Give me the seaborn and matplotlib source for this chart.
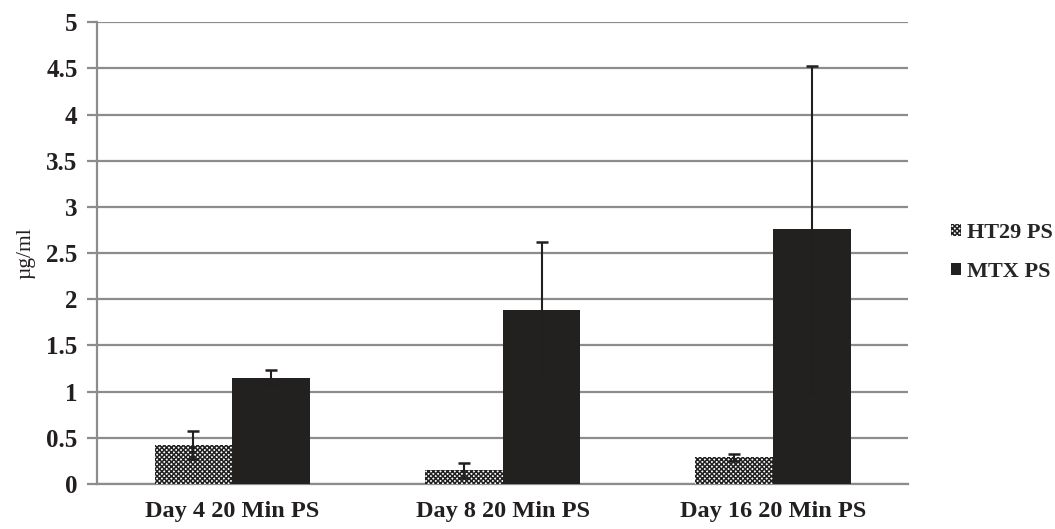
import pandas as pd
import matplotlib
matplotlib.use('Agg')
import matplotlib.pyplot as plt
import numpy as np
import seaborn as sns

days = ['Day 4 20 Min PS', 'Day 8 20 Min PS', 'Day 16 20 Min PS']
groups = ['HT29 PS', 'MTX PS']
ht29_mean = [0.42, 0.15, 0.29]
ht29_err = [0.15, 0.08, 0.04]
mtx_mean = [1.15, 1.88, 2.76]
mtx_err = [0.08, 0.74, 1.77]

df = pd.DataFrame({
    'day': days * 2,
    'group': [groups[0]] * 3 + [groups[1]] * 3,
    'value': ht29_mean + mtx_mean,
})
errs = [ht29_err, mtx_err]

sns.set_style('white')
plt.rcParams['font.family'] = ['Liberation Serif', 'DejaVu Serif']
plt.rcParams['font.weight'] = 'bold'
plt.rcParams['hatch.linewidth'] = 1.1

fig = plt.figure(figsize=(10.55, 5.29), dpi=100)
ax = fig.add_axes([0.092, 0.085, 0.769, 0.873])

sns.barplot(data=df, x='day', y='value', hue='group', palette=['white', '#231f20'],
            width=0.575, errorbar=None, ax=ax, legend=False, zorder=3)

# hatch the HT29 bars, then error bars on top
bar_conts = list(ax.containers)
for i, cont in enumerate(bar_conts):
    for j, bar in enumerate(cont.patches):
        bar.set_linewidth(0)
        if i == 0:
            bar.set_hatch('xxxxxxx')
            bar.set_edgecolor('#222222')
        cx = bar.get_x() + bar.get_width() / 2
        ax.errorbar(cx, bar.get_height(), yerr=errs[i][j], fmt='none', ecolor='#231f20',
                    elinewidth=1.5, capsize=4.5, capthick=1.8, zorder=4)

ax.set_xlim(-0.5, 2.5)
ax.set_ylim(0, 5)
ax.set_yticks(np.arange(0, 5.01, 0.5))
ax.set_yticklabels(['0', '0.5', '1', '1.5', '2', '2.5', '3', '3.5', '4', '4.5', '5'])
ax.yaxis.grid(True, color='#8c8c8c', linewidth=1.6, zorder=0)
ax.set_axisbelow(True)
for s in ['top', 'right']:
    ax.spines[s].set_visible(False)
ax.spines['left'].set_color('#8c8c8c')
ax.spines['bottom'].set_color('#8c8c8c')
ax.spines['left'].set_linewidth(1.6)
ax.spines['bottom'].set_linewidth(1.6)
ax.tick_params(axis='y', length=7, width=1.6, color='#8c8c8c', labelsize=18, pad=7, left=True)
ax.tick_params(axis='x', length=0, labelsize=17.5, pad=12)
for t in ax.get_xticklabels() + ax.get_yticklabels():
    t.set_color('#231f20')
ax.set_xlabel('')
ax.set_ylabel('µg/ml', fontsize=15.5, color='#231f20', labelpad=8)

handles = [bar_conts[0].patches[0], bar_conts[1].patches[0]]
fig.legend(handles, groups, loc='center left', bbox_to_anchor=(0.882, 0.523), frameon=False,
           fontsize=16, handlelength=0.45, handleheight=0.45, handletextpad=0.3, labelspacing=0.85)

fig.savefig('out.png', dpi=100)
